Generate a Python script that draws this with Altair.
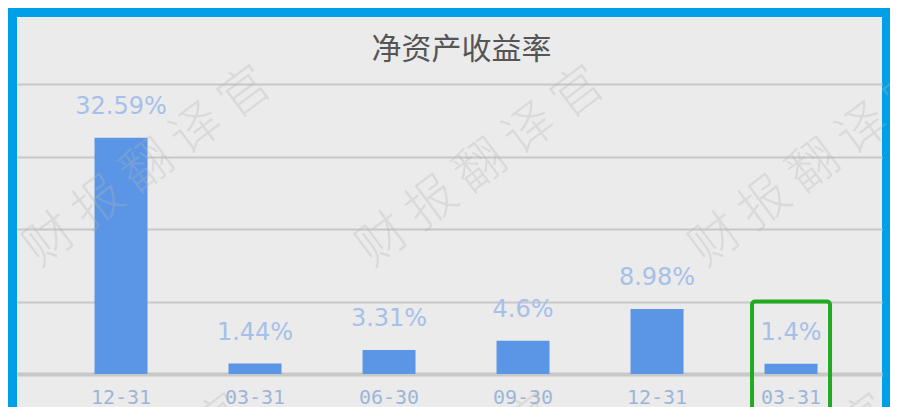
import json
import altair as alt
import pandas as pd

# ---- data ----
period_labels = ["12-31", "03-31", "06-30", "09-30", "12-31", "03-31"]
roe_values = [32.59, 1.44, 3.31, 4.6, 8.98, 1.4]
value_labels = ["32.59%", "1.44%", "3.31%", "4.6%", "8.98%", "1.4%"]
grid_values = [10, 20, 30, 40]
highlight_index = [5]
highlight_top = [10]
highlight_bottom = [-8]

watermark_text = "财 报 翻 译 官"
watermark_x = [131, 464, 797, 106, 418, 751]
watermark_y = [150, 150, 150, 478, 478, 478]

title_text = "净资产收益率"

# ---- tables ----
df = pd.DataFrame({
    "idx": list(range(len(period_labels))),
    "roe": roe_values,
    "label": value_labels,
})
hl = pd.DataFrame({"idx": highlight_index, "top": highlight_top, "bottom": highlight_bottom})
wm = pd.DataFrame({"px": watermark_x, "py": watermark_y, "t": [watermark_text] * len(watermark_x)})

W, H = 865, 403
label_expr = json.dumps(period_labels) + "[datum.value]"

xscale = alt.Scale(paddingInner=0, paddingOuter=0.2276, align=0.607)
yscale = alt.Scale(domain=[0, 40], range=[357, 67], nice=False, zero=False)

xaxis = alt.Axis(
    labelExpr=label_expr, offset=-46, labelAngle=0, ticks=False, grid=False,
    domainColor="#c8c8c8", domainWidth=4, labelFont="DejaVu Sans Mono",
    labelFontSize=20, labelColor="#9db5d8", labelPadding=13, title=None,
)
yaxis = alt.Axis(
    values=grid_values, labels=False, ticks=False, domain=False, title=None,
    grid=True, gridColor="#c8c8c8", gridWidth=2,
)

base = alt.Chart(df)

bars = base.mark_bar(size=53, color="#5b96e6").encode(
    x=alt.X("idx:O", scale=xscale, axis=xaxis),
    y=alt.Y("roe:Q", scale=yscale, axis=yaxis),
)

texts = base.mark_text(
    dy=-24, baseline="alphabetic", font="DejaVu Sans", fontSize=24, color="#a6c0e8"
).encode(
    x=alt.X("idx:O"),
    y=alt.Y("roe:Q"),
    text="label:N",
)

marks = alt.Chart(wm).mark_text(
    angle=323, font="Noto Sans CJK SC", fontSize=50, fontWeight=300,
    color="#b4b4b4", opacity=0.3, align="center", baseline="middle",
).encode(
    x=alt.X("px:Q", scale=None),
    y=alt.Y("py:Q", scale=None),
    text="t:N",
)

box = alt.Chart(hl).mark_bar(
    size=78, filled=False, stroke="#22aa22", strokeWidth=4, cornerRadius=3,
).encode(
    x=alt.X("idx:O"),
    y=alt.Y("top:Q"),
    y2="bottom:Q",
)

chart = alt.layer(bars, texts, marks, box).properties(
    width=W,
    height=H,
    autosize=alt.AutoSizeParams(type="none"),
    padding={"left": 9, "top": 9, "right": 8, "bottom": 0},
    title=alt.TitleParams(
        title_text, anchor="middle", frame="group", offset=0, dy=63, dx=12,
        baseline="middle", font="Noto Sans CJK SC", fontSize=30,
        fontWeight="normal", color="#555555",
    ),
).configure(background="#00a0e8").configure_view(fill="#ebebeb", stroke=None)

chart.save("out.html", embed_options={"renderer": "svg", "actions": False})
